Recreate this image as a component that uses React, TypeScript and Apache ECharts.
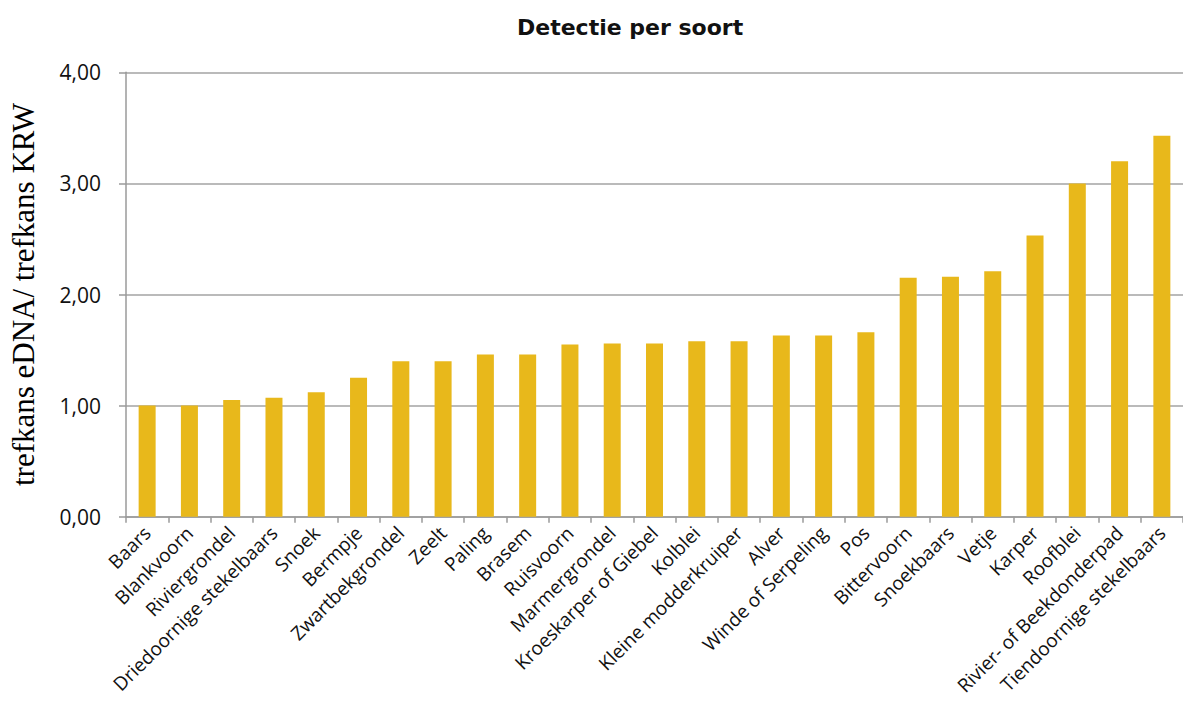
import React, { useEffect, useRef } from "react";
import * as echarts from "echarts";

// Species, sorted by ratio
const soorten: string[] = [
  "Baars",
  "Blankvoorn",
  "Riviergrondel",
  "Driedoornige stekelbaars",
  "Snoek",
  "Bermpje",
  "Zwartbekgrondel",
  "Zeelt",
  "Paling",
  "Brasem",
  "Ruisvoorn",
  "Marmergrondel",
  "Kroeskarper of Giebel",
  "Kolblei",
  "Kleine modderkruiper",
  "Alver",
  "Winde of Serpeling",
  "Pos",
  "Bittervoorn",
  "Snoekbaars",
  "Vetje",
  "Karper",
  "Roofblei",
  "Rivier- of Beekdonderpad",
  "Tiendoornige stekelbaars",
];

// trefkans eDNA / trefkans KRW
const verhouding: number[] = [
  1.0, 1.0, 1.05, 1.07, 1.12, 1.25, 1.4, 1.4, 1.46, 1.46, 1.55, 1.56, 1.56,
  1.58, 1.58, 1.63, 1.63, 1.66, 2.15, 2.16, 2.21, 2.53, 3.0, 3.2, 3.43,
];

const titel = "Detectie per soort";
const yAsNaam = "trefkans eDNA/ trefkans KRW";

export default function App() {
  const ref = useRef<HTMLDivElement>(null);

  useEffect(() => {
    if (!ref.current) return;
    const chart = echarts.init(ref.current, undefined, { renderer: "svg" });
    chart.setOption({
      animation: false,
      backgroundColor: "#ffffff",
      title: {
        text: titel,
        left: 512,
        top: 11,
        textStyle: {
          fontFamily: "DejaVu Sans",
          fontWeight: "bold",
          fontSize: 22,
          color: "#111111",
        },
      },
      grid: {
        left: 118,
        right: -8,
        top: 72.3,
        bottom: 191.3,
        containLabel: false,
      },
      xAxis: {
        type: "category",
        data: soorten,
        axisLine: { lineStyle: { color: "#9a9a9a", width: 1.5 } },
        axisTick: {
          show: true,
          alignWithLabel: false,
          length: 6,
          lineStyle: { color: "#9a9a9a", width: 1.5 },
        },
        axisLabel: {
          interval: 0,
          rotate: 45,
          margin: 13,
          fontFamily: "Open Sans",
          fontSize: 19,
          color: "#111111",
        },
      },
      yAxis: {
        type: "value",
        min: 0,
        max: 4,
        interval: 1,
        name: yAsNaam,
        nameLocation: "middle",
        nameGap: 87,
        nameTextStyle: {
          fontFamily: "Liberation Serif",
          fontSize: 31,
          color: "#000000",
        },
        axisLine: { show: true, lineStyle: { color: "#9a9a9a", width: 1.5 } },
        axisTick: {
          show: true,
          length: 7,
          lineStyle: { color: "#9a9a9a", width: 1.5 },
        },
        splitLine: { lineStyle: { color: "#a3a3a3", width: 1.5 } },
        axisLabel: {
          margin: 25,
          fontFamily: "Open Sans",
          fontSize: 21,
          color: "#111111",
          formatter: (v: number) => v.toFixed(2).replace(".", ","),
        },
      },
      series: [
        {
          type: "bar",
          data: verhouding,
          barWidth: 17,
          itemStyle: { color: "#E8B81B" },
        },
      ],
    });
    return () => chart.dispose();
  }, []);

  return (
    <div
      ref={ref}
      style={{ position: "absolute", left: 0, top: 0, width: 1183, height: 708 }}
    />
  );
}
